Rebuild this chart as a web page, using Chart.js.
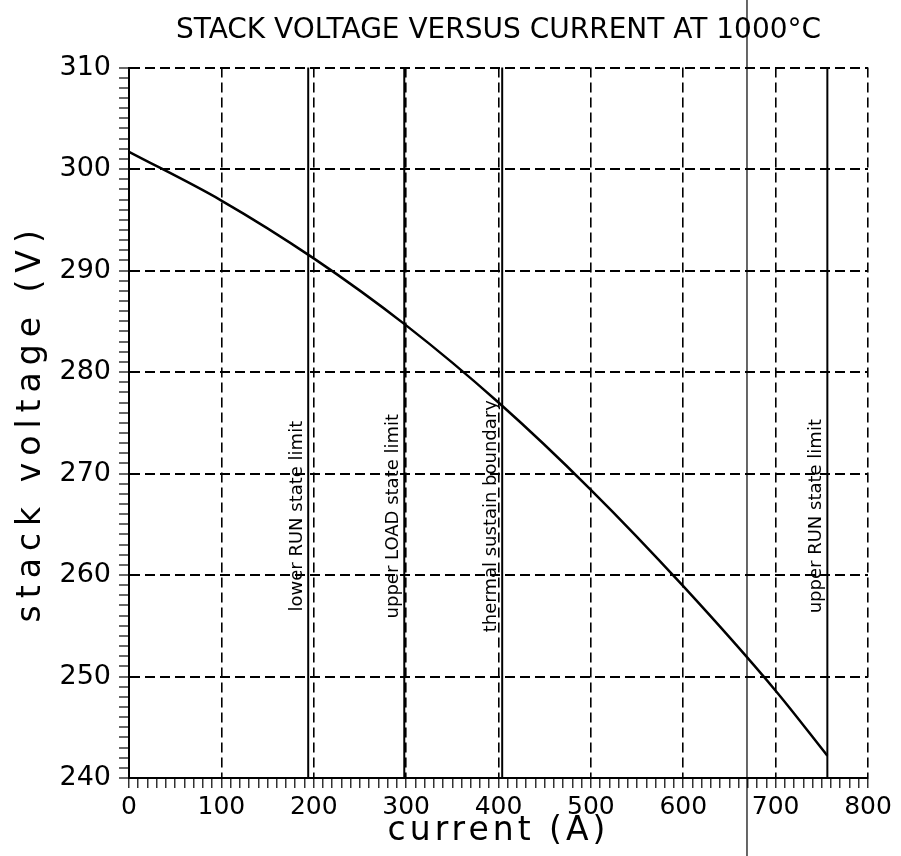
<!DOCTYPE html>
<html>
<head>
<meta charset="utf-8">
<script src="https://cdn.jsdelivr.net/npm/chart.js@4.4.1/dist/chart.umd.min.js"></script>
<style>
  html, body { margin: 0; padding: 0; background: #fff; }
  #wrap { width: 901px; height: 856px; }
</style>
</head>
<body>
<div id="wrap"><canvas id="chart"></canvas></div>
<script>
// curve
const currentAmps = [0, 100, 200, 300, 400, 500, 600, 700, 756];
const stackVolts = [301.7, 296.9, 291.2, 284.6, 277.0, 268.4, 258.9, 248.6, 242.2];

// vertical operating limits (A)
const limitCurrents = [194, 298, 404, 756];
const limitLabels = ['lower RUN state limit', 'upper LOAD state limit', 'thermal sustain boundary', 'upper RUN state limit'];

// scanner streak through the sheet (A)
const streakCurrent = 669;

const xRange = [0, 800];
const yRange = [240, 310];

const limitLinesPlugin = {
    id: 'limitLines',
    afterDatasetsDraw(chart) {
        const ctx = chart.ctx;
        const x = chart.scales.x;
        const y = chart.scales.y;
        const top = y.getPixelForValue(yRange[1]);
        const bottom = y.getPixelForValue(yRange[0]);
        const labelY = y.getPixelForValue(265.8);

        ctx.save();
        ctx.strokeStyle = '#000';
        ctx.fillStyle = '#000';
        ctx.lineWidth = 2;
        limitCurrents.forEach((amps, i) => {
            const px = x.getPixelForValue(amps);
            ctx.beginPath();
            ctx.moveTo(px, top);
            ctx.lineTo(px, bottom);
            ctx.stroke();

            ctx.save();
            ctx.translate(px - 11, labelY);
            ctx.rotate(-Math.PI / 2);
            ctx.font = '18px "DejaVu Sans", sans-serif';
            ctx.textAlign = 'center';
            ctx.textBaseline = 'middle';
            ctx.fillText(limitLabels[i], 0, 0);
            ctx.restore();
        });

        // thin streak across the whole sheet
        const sx = x.getPixelForValue(streakCurrent);
        ctx.lineWidth = 1.2;
        ctx.beginPath();
        ctx.moveTo(sx, 0);
        ctx.lineTo(sx, chart.height);
        ctx.stroke();
        ctx.restore();
    }
};

// the plotter font has loose letter spacing on the axis titles
function spaceTitle(scale, spacing) {
    if (scale._spacedTitle) return;
    scale._spacedTitle = true;
    const drawTitle = scale.drawTitle;
    scale.drawTitle = function () {
        this.ctx.save();
        this.ctx.letterSpacing = spacing;
        drawTitle.call(this);
        this.ctx.restore();
    };
}

const isMajor = (v, step) => Math.abs(Math.round(v) % step) === 0;

new Chart(document.getElementById('chart'), {
    type: 'line',
    data: {
        datasets: [{
            data: currentAmps.map((a, i) => ({ x: a, y: stackVolts[i] })),
            borderColor: '#000',
            borderWidth: 2.5,
            pointRadius: 0,
            cubicInterpolationMode: 'monotone',
            fill: false
        }]
    },
    options: {
        responsive: true,
        maintainAspectRatio: false,
        animation: false,
        layout: { padding: { right: 33 } },
        plugins: {
            legend: { display: false },
            tooltip: { enabled: false },
            title: {
                display: true,
                text: 'STACK VOLTAGE VERSUS CURRENT AT 1000°C',
                fullSize: false,
                color: '#000',
                font: { family: '"DejaVu Sans", sans-serif', size: 28, weight: 'normal' },
                padding: { top: 14, bottom: 20 }
            }
        },
        scales: {
            x: {
                type: 'linear',
                min: xRange[0],
                max: xRange[1],
                afterFit(scale) { scale.height = 78; spaceTitle(scale, '4px'); },
                ticks: {
                    stepSize: 10,
                    autoSkip: false,
                    maxRotation: 0,
                    color: '#000',
                    padding: 4,
                    font: { family: '"DejaVu Sans", sans-serif', size: 25 },
                    callback: v => isMajor(v, 100) ? v : ''
                },
                grid: {
                    color: c => isMajor(c.tick.value, 100) ? '#000' : 'transparent',
                    lineWidth: 1.6,
                    tickColor: '#000',
                    tickLength: 10,
                    tickWidth: 1.2
                },
                border: { display: true, color: '#000', width: 2, dash: [10, 5] },
                title: {
                    display: true,
                    text: 'current (A)',
                    color: '#000',
                    font: { family: '"DejaVu Sans", sans-serif', size: 33 },
                    padding: { top: 0, bottom: 5 }
                }
            },
            y: {
                min: yRange[0],
                max: yRange[1],
                afterFit(scale) { scale.width = 129; spaceTitle(scale, '7px'); },
                ticks: {
                    stepSize: 1,
                    autoSkip: false,
                    color: '#000',
                    padding: 8,
                    font: { family: '"DejaVu Sans", sans-serif', size: 27 },
                    callback: v => isMajor(v, 10) ? v : ''
                },
                grid: {
                    color: c => isMajor(c.tick.value, 10) ? '#000' : 'transparent',
                    lineWidth: 2,
                    tickColor: '#000',
                    tickLength: 10,
                    tickWidth: 1.2
                },
                border: { display: true, color: '#000', width: 2, dash: [10, 5] },
                title: {
                    display: true,
                    text: 'stack voltage (V)',
                    color: '#000',
                    font: { family: '"DejaVu Sans", sans-serif', size: 33 },
                    padding: { top: 12, bottom: 0 }
                }
            }
        }
    },
    plugins: [limitLinesPlugin]
});
</script>
</body>
</html>
